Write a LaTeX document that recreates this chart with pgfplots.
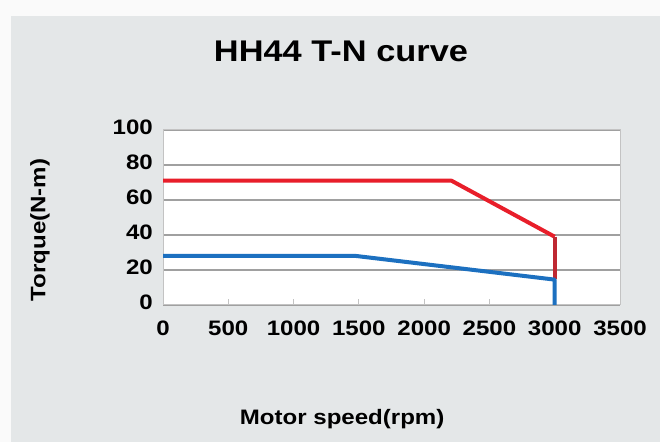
\documentclass[border=0pt]{standalone}
\usepackage{pgfplots}
\pgfplotsset{compat=1.18}
\usepackage{fontspec}
\setmainfont[FakeStretch=1.15]{Liberation Sans}
\definecolor{bg}{RGB}{228,231,232}
\definecolor{topstrip}{RGB}{250,250,250}
\definecolor{gridc}{RGB}{160,160,160}
\definecolor{framec}{RGB}{195,195,195}
\definecolor{redc}{RGB}{232,30,42}
\definecolor{darkredc}{RGB}{190,40,50}
\definecolor{bluec}{RGB}{28,112,192}
\begin{document}
\begin{tikzpicture}[x=1bp,y=1bp]
\fill[bg] (0,0) rectangle (660,442);
\fill[topstrip] (0,426) rectangle (660,442);
\fill[topstrip] (0,0) rectangle (11,442);
\begin{axis}[
  at={(163bp,137bp)}, anchor=south west,
  scale only axis, width=457bp, height=175bp,
  xmin=0, xmax=3500, ymin=0, ymax=100,
  axis background/.style={fill=white},
  axis line style={draw=framec, line width=1bp},
  xtick={0,500,...,3500}, ytick={0,20,...,100},
  ymajorgrids, grid style={gridc, line width=1.5bp},
  xtick pos=bottom, tick align=inside, major tick length=6bp,
  xtick style={draw=framec, line width=1bp},
  ytick style={draw=none},
  /pgf/number format/assume math mode=true,
  /pgf/number format/set thousands separator={},
  tick label style={font=\bfseries\fontsize{21}{21}\selectfont, inner sep=0pt},
  xticklabel style={anchor=center, yshift=-23bp},
  yticklabel style={anchor=east, xshift=-10bp, yshift=3bp},
  title={HH44 T-N curve},
  title style={at={(axis description cs:0.3895,1)}, anchor=center, yshift=73bp, font=\bfseries\fontsize{30}{30}\selectfont},
  xlabel={Motor speed(rpm)},
  xlabel style={at={(axis description cs:0.392,0)}, anchor=base, yshift=-120bp, font=\bfseries\fontsize{21}{21}\selectfont},
  ylabel={Torque(N-m)},
  ylabel style={at={(axis description cs:-0.269,0.4286)}, anchor=center, font=\bfseries\fontsize{21}{21}\selectfont},
  clip=false,
]
\addplot[redc, line width=4bp, line join=round] coordinates {(0,71) (2210,71) (3000,39)};
\addplot[darkredc, line width=4bp] coordinates {(3000,39) (3000,15)};
\addplot[bluec, line width=4bp, line join=round] coordinates {(0,28) (1480,28) (3000,14.5) (3000,0)};
\end{axis}
\end{tikzpicture}
\end{document}
